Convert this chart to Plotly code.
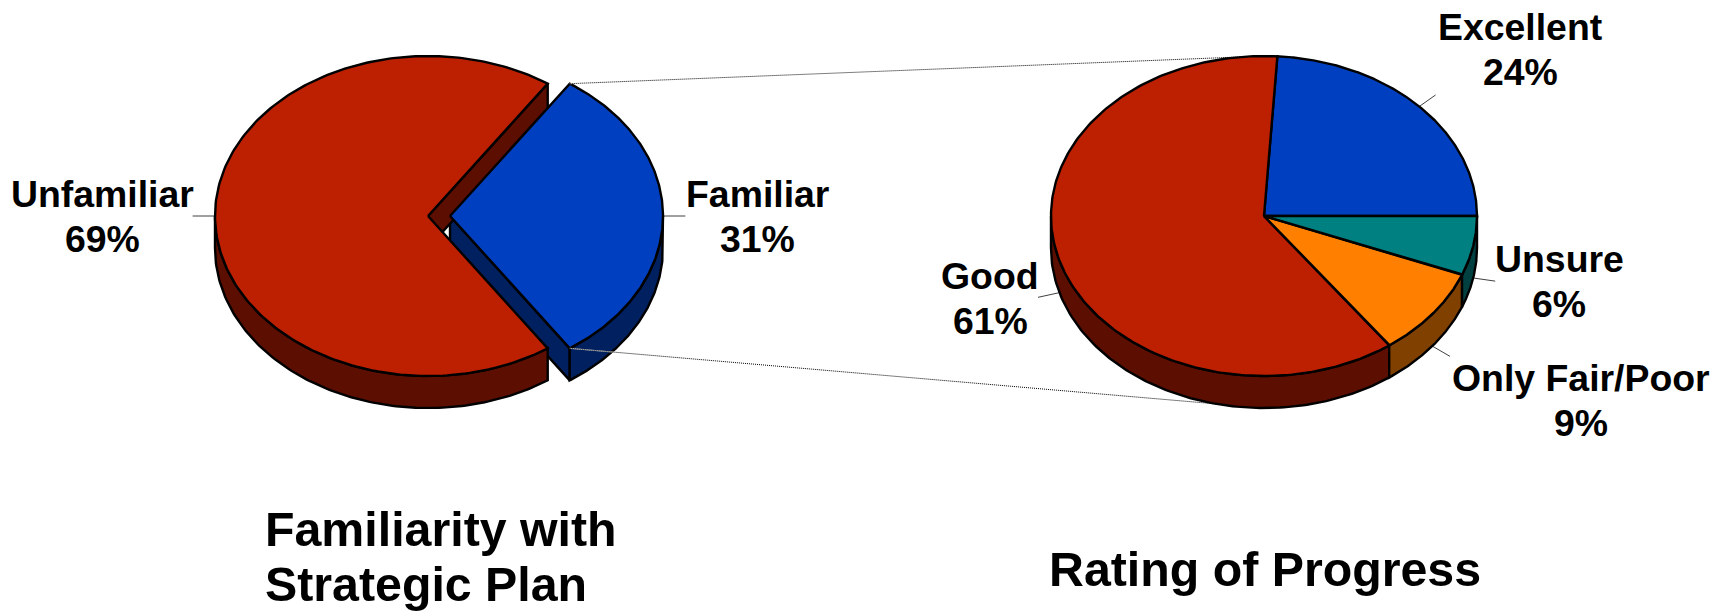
import numpy as np
import plotly.graph_objects as go

# --- data ---
familiarity_labels = ["Familiar", "Unfamiliar"]
familiarity_values = [31, 69]
rating_labels = ["Excellent", "Good", "Only Fair/Poor", "Unsure"]
rating_values = [24, 61, 9, 6]
title_left = ["Familiarity with", "Strategic Plan"]
title_right = ["Rating of Progress"]

# --- styles and geometry ---
W, H = 1730, 613
RX, RY, DEPTH = 213, 160, 32
LEFT_CX, RIGHT_CX, CY = 428, 1264, 216
EXPLODE = {"Familiar": 22}
TOPS = {"Familiar": "#0040C0", "Unfamiliar": "#BC2000", "Excellent": "#0040C0",
        "Good": "#BC2000", "Only Fair/Poor": "#FF8000", "Unsure": "#008080"}
SIDES = {"Familiar": "#002060", "Unfamiliar": "#5C0E00", "Excellent": "#002060",
         "Good": "#5C0E00", "Only Fair/Poor": "#804000", "Unsure": "#004040"}
LABEL_POS = {"Familiar": (757, 207), "Unfamiliar": (102, 207), "Excellent": (1520, 40),
             "Good": (990, 289), "Only Fair/Poor": (1581, 391), "Unsure": (1559, 272)}
LABEL_GAP = 45
LABEL_SIZE = 37.4
TITLE_SIZE = 48.3
FONT = "Liberation Sans"

fig = go.Figure()


def pt(cx, t, r=1.0, dz=0):
    a = np.radians(t)
    return cx + RX * r * np.cos(a), CY - RY * r * np.sin(a) + dz


def poly(xs, ys, color):
    fig.add_trace(go.Scatter(x=list(xs), y=list(ys), mode="lines", fill="toself",
                             fillcolor=color, line=dict(color="black", width=2.4),
                             hoverinfo="skip", showlegend=False))


def seg(p, q, color="#404040", width=1, dash="solid"):
    fig.add_trace(go.Scatter(x=[p[0], q[0]], y=[p[1], q[1]], mode="lines",
                             line=dict(color=color, width=width, dash=dash),
                             hoverinfo="skip", showlegend=False))


def sectors(labels, values, start):
    out = {}
    a = start
    for lab, v in zip(labels, values):
        out[lab] = (a, a + v * 3.6)
        a += v * 3.6
    return out


def rim(cx, t1, t2, color):
    # visible front wall of a slice, between 180 and 360 degrees
    t1, t2 = max(t1, 180), min(t2, 360)
    if t2 <= t1:
        return
    ts = np.linspace(t1, t2, 120)
    x, y = pt(cx, ts)
    poly(np.r_[x, x[::-1], x[0]], np.r_[y, (y + DEPTH)[::-1], y[0]], color)


def cut(cx, t, color):
    # wall along a radial edge of a slice
    x, y = pt(cx, t)
    poly([cx, x, x, cx, cx], [CY, y, y + DEPTH, CY + DEPTH, CY], color)


def top(cx, t1, t2, color):
    ts = np.linspace(t1, t2, 240)
    x, y = pt(cx, ts)
    poly(np.r_[cx, x, cx], np.r_[CY, y, CY], color)


def leader(cx, t):
    a, b = pt(cx, t), pt(cx, t, 1.105)
    dz = DEPTH if np.sin(np.radians(t)) < -1e-6 else 0
    seg((a[0], a[1] + dz), (b[0], b[1] + dz))


def connector(p, q):
    seg(p, q, color="#FFFFFF", width=1)
    seg(p, q, color="#000000", width=1, dash="1px,1px")


# --- left pie: the exploded slice's walls lie behind the larger slice ---
left = sectors(familiarity_labels, familiarity_values, -familiarity_values[0] * 3.6 / 2)
f1, f2 = left["Familiar"]
cx_f = LEFT_CX + EXPLODE["Familiar"]
leader(cx_f, (f1 + f2) / 2)
cut(cx_f, f1, SIDES["Familiar"])
rim(cx_f, f1 + 360, 360, SIDES["Familiar"])

t1, t2 = left["Unfamiliar"]
leader(LEFT_CX, (t1 + t2) / 2)
cut(LEFT_CX, t1, SIDES["Unfamiliar"])
rim(LEFT_CX, t1, t2, SIDES["Unfamiliar"])
top(LEFT_CX, t1, t2, TOPS["Unfamiliar"])
top(cx_f, f1, f2, TOPS["Familiar"])

# --- connector lines between the pies ---
connector(pt(cx_f, f2), pt(RIGHT_CX, 90))
connector(pt(cx_f, f1), pt(RIGHT_CX, 270, dz=DEPTH))

# --- right pie ---
right = sectors(rating_labels, rating_values, 0)
for lab in rating_labels:
    t1, t2 = right[lab]
    leader(RIGHT_CX, (t1 + t2) / 2)
for lab in rating_labels:
    t1, t2 = right[lab]
    rim(RIGHT_CX, t1, t2, SIDES[lab])
for lab in rating_labels:
    t1, t2 = right[lab]
    top(RIGHT_CX, t1, t2, TOPS[lab])


# --- text ---
def text(s, x, baseline, size, anchor="center"):
    fig.add_annotation(x=x, y=baseline - 0.345 * size, xref="x", yref="y", text=s, showarrow=False,
                       xanchor=anchor, yanchor="middle",
                       font=dict(family=FONT, size=size, color="black"))


for labs, vals in ((familiarity_labels, familiarity_values), (rating_labels, rating_values)):
    for lab, v in zip(labs, vals):
        x, b = LABEL_POS[lab]
        text(f"<b>{lab}</b>", x, b, LABEL_SIZE)
        text(f"<b>{v}%</b>", x, b + LABEL_GAP, LABEL_SIZE)

for i, s in enumerate(title_left):
    text(f"<b>{s}</b>", 263, 545.5 + 55 * i, TITLE_SIZE, "left")
for s in title_right:
    text(f"<b>{s}</b>", 1047, 586, TITLE_SIZE, "left")

fig.update_layout(width=W, height=H, margin=dict(l=0, r=0, t=0, b=0),
                  paper_bgcolor="white", plot_bgcolor="white", showlegend=False,
                  xaxis=dict(range=[0, W], visible=False, fixedrange=True),
                  yaxis=dict(range=[H, 0], visible=False, fixedrange=True))
fig.write_html("out.html", config={"displayModeBar": False},
               default_width=W, default_height=H,
               post_script="document.body.style.margin='0';document.body.style.overflow='hidden';")
